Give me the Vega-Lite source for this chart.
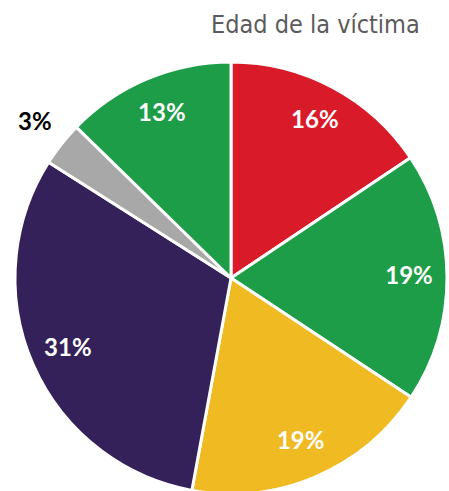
{
  "$schema": "https://vega.github.io/schema/vega-lite/v6.json",
  "width": 432,
  "height": 432,
  "autosize": "none",
  "padding": {"left": 15, "top": 62, "right": 2, "bottom": 0},
  "background": "white",
  "title": {
    "text": "Edad de la víctima",
    "anchor": "start",
    "frame": "group",
    "orient": "top",
    "offset": -2,
    "dx": 196,
    "font": "DejaVu Sans Condensed",
    "fontSize": 25,
    "fontWeight": "normal",
    "color": "#5b5b5b"
  },
  "data": {
    "values": [
      {"i": 1, "group": "A", "share": 15.6, "label": "16%"},
      {"i": 2, "group": "B", "share": 18.7, "label": "19%"},
      {"i": 3, "group": "C", "share": 18.6, "label": "19%"},
      {"i": 4, "group": "D", "share": 31.1, "label": "31%"},
      {"i": 5, "group": "E", "share": 3.3, "label": "3%"},
      {"i": 6, "group": "F", "share": 12.7, "label": "13%"}
    ]
  },
  "encoding": {
    "theta": {"field": "share", "type": "quantitative", "stack": true},
    "order": {"field": "i", "type": "quantitative"}
  },
  "layer": [
    {
      "mark": {"type": "arc", "stroke": "white", "strokeWidth": 3},
      "encoding": {
        "color": {
          "field": "group",
          "type": "nominal",
          "scale": {
            "domain": ["A", "B", "C", "D", "E", "F"],
            "range": ["#d91a28", "#1d9d47", "#efba22", "#35215a", "#a8a8a8", "#1d9d47"]
          },
          "legend": null
        }
      }
    },
    {
      "mark": {"type": "text", "radius": 178, "font": "Lato", "fontSize": 24, "fontWeight": "bold", "fill": "white"},
      "encoding": {
        "text": {"condition": {"test": "datum.share < 5", "value": ""}, "field": "label"}
      }
    },
    {
      "mark": {"type": "text", "radius": 250, "font": "Lato", "fontSize": 24, "fontWeight": "bold", "fill": "black"},
      "encoding": {
        "text": {"condition": {"test": "datum.share >= 5", "value": ""}, "field": "label"}
      }
    }
  ]
}
